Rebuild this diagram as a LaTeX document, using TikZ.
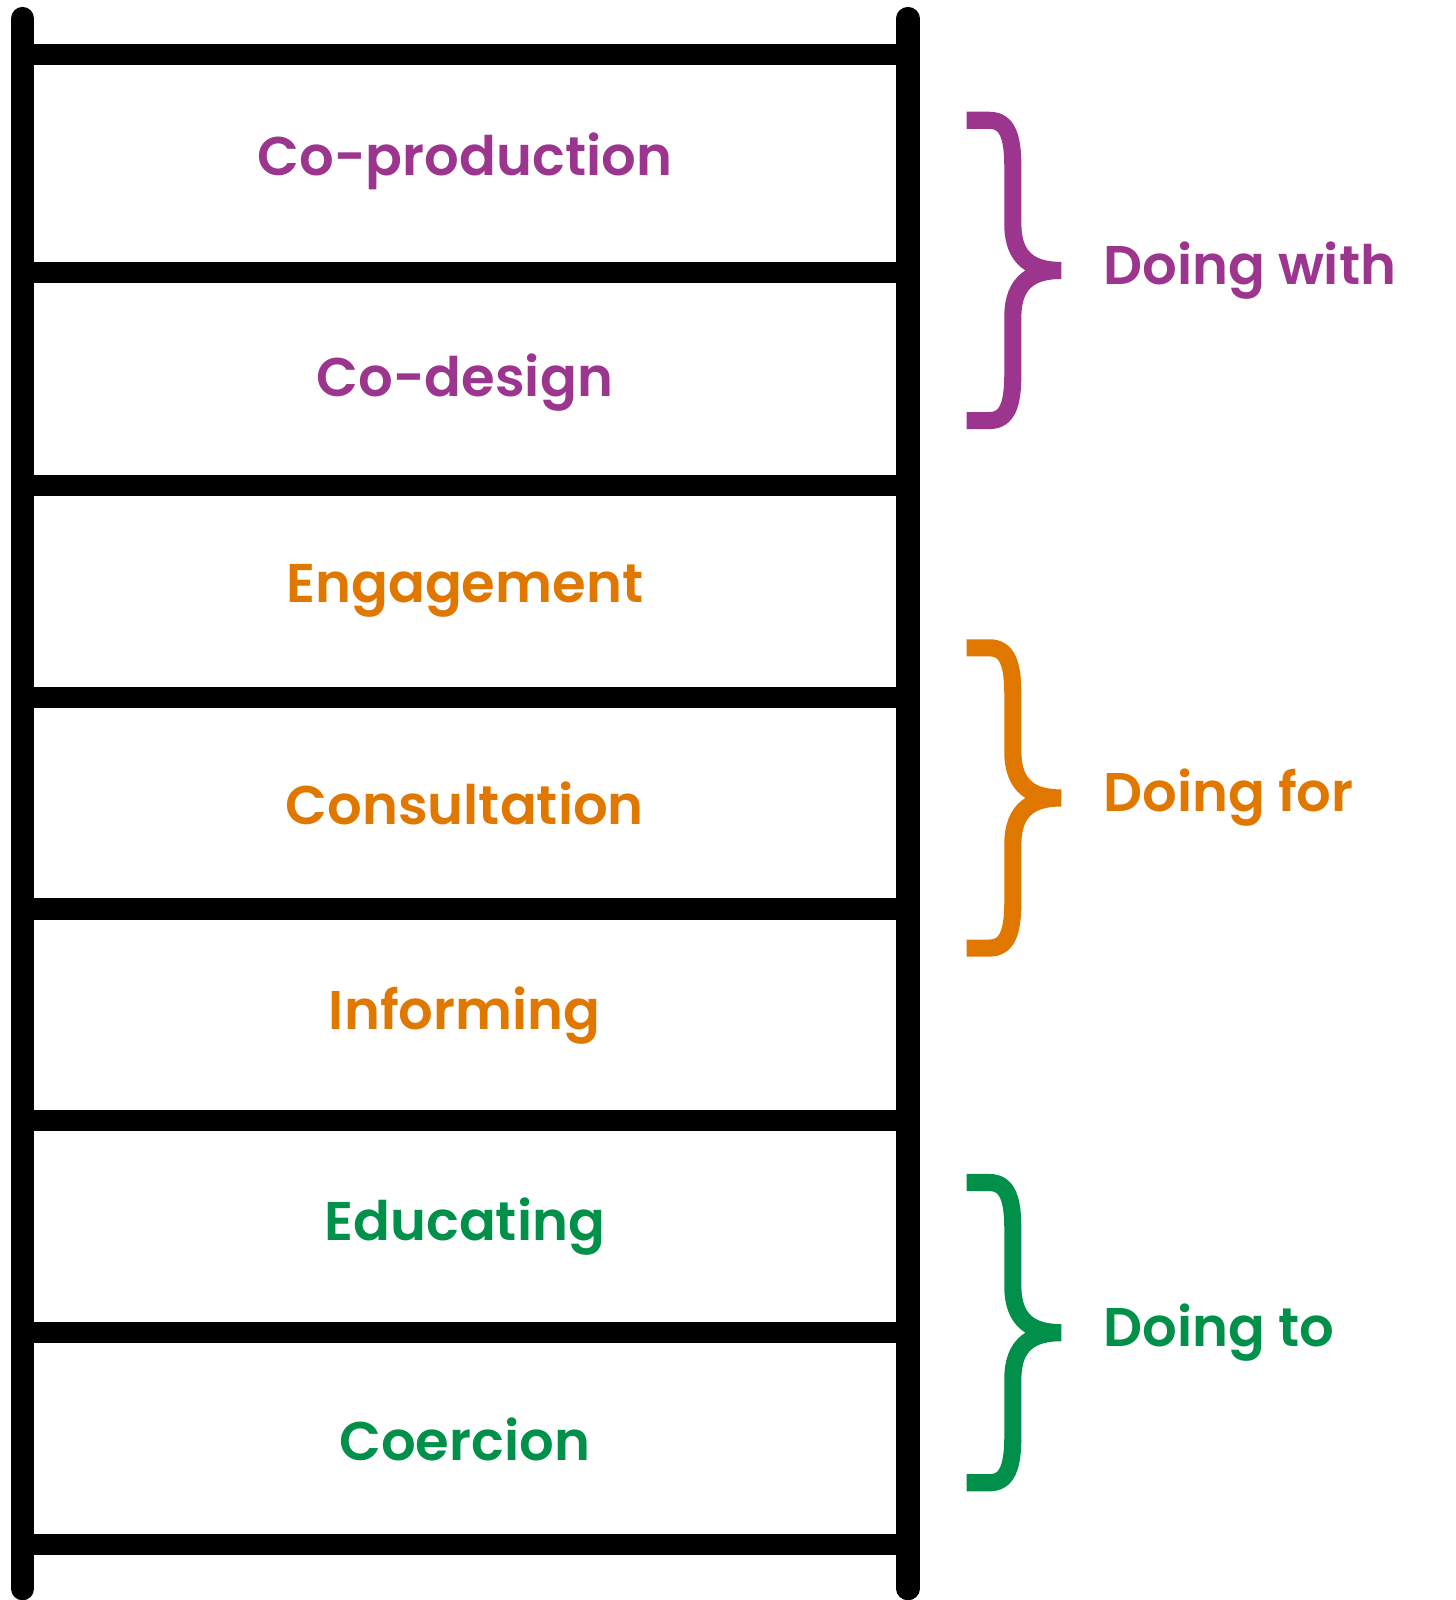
\documentclass[tikz,border=0pt]{standalone}
\usepackage{fontspec}
\setmainfont{Poppins}[BoldFont={* SemiBold}]
\definecolor{cpur}{HTML}{9B358D}
\definecolor{corg}{HTML}{E07800}
\definecolor{cgrn}{HTML}{00904A}
\begin{document}
\begin{tikzpicture}[x=0.51pt,y=-0.51pt,
  rail/.style={line width=11.5pt,line cap=round},
  rung/.style={line width=10.5pt},
  lab/.style={font=\fontsize{27}{30}\selectfont\bfseries},
  brace/.style={line width=8.5pt},
  grp/.style={font=\fontsize{27}{30}\selectfont\bfseries,anchor=west}]
\useasboundingbox (0,0) rectangle (1415,1556);
\coordinate (lt) at (22,18); \coordinate (lb) at (22,1545);
\coordinate (rt) at (883,18); \coordinate (rb) at (883,1545);
\draw[rail] (lt) -- (lb);
\draw[rail] (rt) -- (rb);
\foreach \y in {53,265,472,678,884,1090,1296,1502}
  \draw[rung] (22,\y) -- (883,\y);
\node[lab,text=cpur] (a) at (452,157) {Co-production};
\node[lab,text=cpur] (b) at (452,372) {Co-design};
\node[lab,text=corg] (c) at (452,575) {Engagement};
\node[lab,text=corg] (d) at (452,781) {Consultation};
\node[lab,text=corg] (e) at (452,988) {Informing};
\node[lab,text=cgrn] (f) at (452,1193) {Educating};
\node[lab,text=cgrn] (g) at (452,1400) {Coercion};
\foreach \t/\c/\n/\s in {263/cpur/Doing with/w,776/corg/Doing for/o,1296/cgrn/Doing to/t}{
  \draw[brace,\c] (940,\t-146) -- (962,\t-146) .. controls (980,\t-146) and (985,\t-130) .. (985,\t-100)
    -- (985,\t-45) .. controls (985,\t-10) and (1005,\t) .. (1032,\t)
    .. controls (1005,\t) and (985,\t+10) .. (985,\t+45) -- (985,\t+100)
    .. controls (985,\t+130) and (980,\t+146) .. (962,\t+146) -- (940,\t+146);
  \node[grp,text=\c] (\s) at (1066,\t) {\n};
}
\end{tikzpicture}
\end{document}
